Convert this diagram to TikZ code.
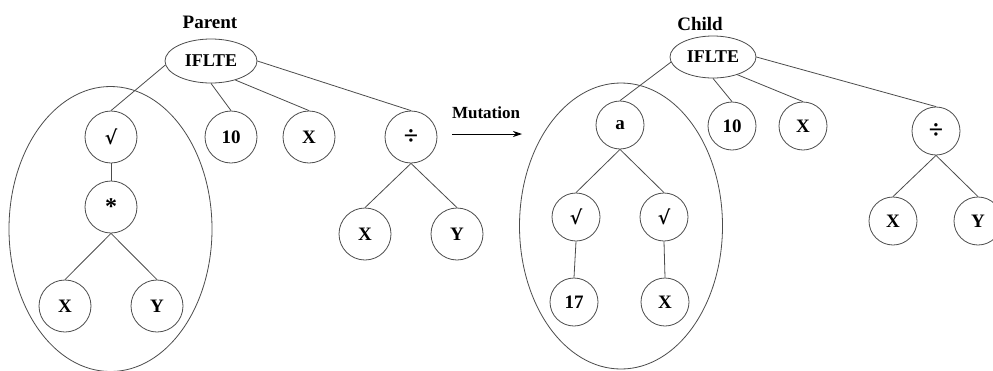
\documentclass[tikz,border=0pt]{standalone}
\usepackage{fontspec}
\setmainfont{Liberation Serif}
\newfontfamily\symfont{DejaVu Serif}
\usetikzlibrary{arrows.meta,shapes.geometric}
\begin{document}
\begin{tikzpicture}[x=1pt,y=-1pt,
  edge/.style={draw=black!70, line width=0.8pt},
  nd/.style={circle, draw=black!70, line width=0.8pt, minimum size=52pt, inner sep=0pt,
    font=\bfseries\fontsize{19}{19}\selectfont},
  ndc/.style={nd, minimum size=48pt},
  big/.style={font=\bfseries\fontsize{26}{26}\selectfont},
  rad/.style={font=\symfont\bfseries\fontsize{19}{19}\selectfont},
  star/.style={font=\bfseries\fontsize{24}{24}\selectfont},
  root/.style={ellipse, draw=black!70, line width=0.8pt, minimum width=92pt, minimum height=44pt,
    inner sep=0pt, font=\bfseries\fontsize{18}{18}\selectfont},
  rootc/.style={root, minimum width=86pt, minimum height=42pt},
  blob/.style={ellipse, draw=black!70, line width=0.8pt, minimum width=203pt, minimum height=285pt, inner sep=0pt},
  lbl/.style={inner sep=0pt, font=\bfseries\fontsize{19}{19}\selectfont},
  mlbl/.style={inner sep=0pt, font=\bfseries\fontsize{17}{17}\selectfont}
]
\useasboundingbox (0,0) rectangle (993,370);
\fill[white] (0,0) rectangle (993,370);

% ---------- Parent ----------
\node[blob] (pb) at (110.5,229) {};
\node[lbl] (pt) at (210,22) {Parent};
\node[root] (p) at (211,61) {IFLTE};
\node[nd, rad] (p1) at (111,137) {√};
\node[nd, star] (p2) at (111,207) {*};
\node[nd] (p3) at (65,306) {X};
\node[nd] (p4) at (157,306) {Y};
\node[nd] (p5) at (231,137) {10};
\node[nd] (p6) at (309,137) {X};
\node[nd, big] (p7) at (411,137) {÷};
\node[nd] (p8) at (365,234) {X};
\node[nd] (p9) at (457,234) {Y};

\draw[edge] (p.185) -- (p1.north);
\draw[edge] (p.south) -- (p5.north);
\draw[edge] (p.-38) -- (p6.north);
\draw[edge] (p.east) -- (p7.north);
\draw[edge] (p1.south) -- (p2.north);
\draw[edge] (p2.south) -- (p3.north);
\draw[edge] (p2.south) -- (p4.north);
\draw[edge] (p7.south) -- (p8.north);
\draw[edge] (p7.south) -- (p9.north);

% ---------- Mutation ----------
\node[mlbl] (mut) at (486,113) {Mutation};
\coordinate (m1) at (452,134);
\coordinate (m2) at (522,134);
\draw[edge, draw=black, -{Stealth[length=9pt,width=6pt]}] (m1) -- (m2);

% ---------- Child ----------
\node[blob, minimum height=286pt] (cb) at (621,226) {};
\node[lbl] (ct) at (700,24) {Child};
\node[rootc] (c) at (713,57) {IFLTE};
\node[ndc] (c1) at (620,125) {a};
\node[ndc] (c2) at (732,126) {10};
\node[ndc] (c3) at (803,126) {X};
\node[ndc, big] (c4) at (936,131) {÷};
\node[ndc, rad] (c5) at (576,217) {√};
\node[ndc, rad] (c6) at (664,217) {√};
\node[ndc] (c7) at (574,302) {17};
\node[ndc] (c8) at (665,302) {X};
\node[ndc] (c9) at (893,221) {X};
\node[ndc] (c10) at (978,221) {Y};

\draw[edge] (c.187) -- (c1.north);
\draw[edge] (c.south) -- (c2.north);
\draw[edge] (c.-36) -- (c3.north);
\draw[edge] (c.east) -- (c4.north);
\draw[edge] (c1.south) -- (c5.north);
\draw[edge] (c1.south) -- (c6.north);
\draw[edge] (c5.south) -- (c7.north);
\draw[edge] (c6.south) -- (c8.north);
\draw[edge] (c4.south) -- (c9.north);
\draw[edge] (c4.south) -- (c10.north);
\end{tikzpicture}
\end{document}
